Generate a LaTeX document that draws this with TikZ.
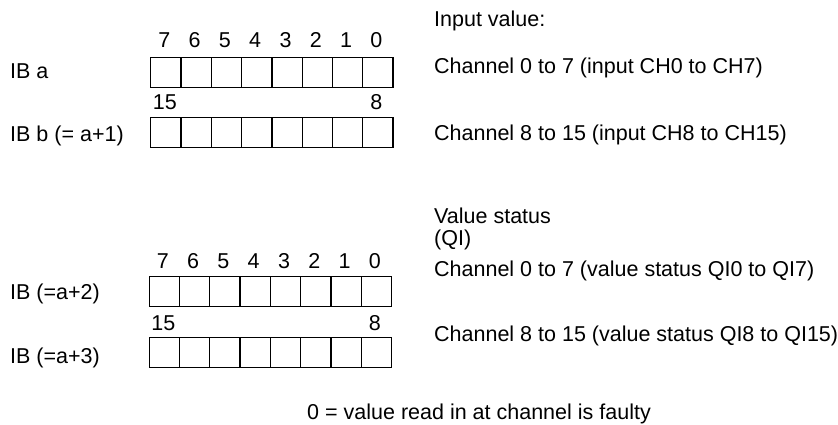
\documentclass[tikz,border=0pt]{standalone}
\usepackage{fontspec}
\setmainfont{Liberation Sans}
\begin{document}
\begin{tikzpicture}[x=1pt,y=-1pt,
  txt/.style={anchor=base west,inner sep=0pt,font=\fontsize{21.5}{24}\selectfont},
  num/.style={anchor=base,inner sep=0pt,font=\fontsize{21.5}{24}\selectfont},
  cell/.style={draw,line width=1.3pt,minimum width=30.3pt,minimum height=30pt,inner sep=0pt,anchor=north west}]
\useasboundingbox (0,0) rectangle (838,425);
% cells
\foreach \i in {0,...,7} {
  \node[cell] (a\i) at ({150+30.3*\i},57) {};
  \node[cell] (b\i) at ({150+30.3*\i},117) {};
  \node[cell] (c\i) at ({148.5+30.3*\i},276) {};
  \node[cell] (d\i) at ({148.5+30.3*\i},336.5) {};
}
% bit numbers
\foreach \i/\n in {0/7,1/6,2/5,3/4,4/3,5/2,6/1,7/0} {
  \node[num] (ta\i) at ([xshift=-1.5pt]a\i.center |- 0,48) {\n};
  \node[num] (tc\i) at ([xshift=-1.5pt]c\i.center |- 0,268) {\n};
}
\node[num] (tb15) at ([xshift=-1pt]b0.center |- 0,110) {15};
\node[num] (tb8) at ([xshift=-1.5pt]b7.center |- 0,110) {8};
\node[num] (td15) at ([xshift=-1pt]d0.center |- 0,330) {15};
\node[num] (td8) at ([xshift=-1.5pt]d7.center |- 0,330) {8};
% left labels
\node[txt] (la) at (10,79) {IB a};
\node[txt] (lb) at (10,142) {IB b (= a+1)};
\node[txt] (lc) at (10,299) {IB (=a+2)};
\node[txt] (ld) at (10,363) {IB (=a+3)};
% right texts
\node[txt] (iv) at (434,27) {Input value:};
\node[txt] (ra) at (434,74) {Channel 0 to 7 (input CH0 to CH7)};
\node[txt] (rb) at (434,141) {Channel 8 to 15 (input CH8 to CH15)};
\node[txt] (vs) at (434,223) {Value status};
\node[txt] (qi) at (434,245) {(QI)};
\node[txt] (rc) at (434,276) {Channel 0 to 7 (value status QI0 to QI7)};
\node[txt] (rd) at (434,341) {Channel 8 to 15 (value status QI8 to QI15)};
% note
\node[txt] (note) at (307,419) {0 = value read in at channel is faulty};
\end{tikzpicture}
\end{document}
